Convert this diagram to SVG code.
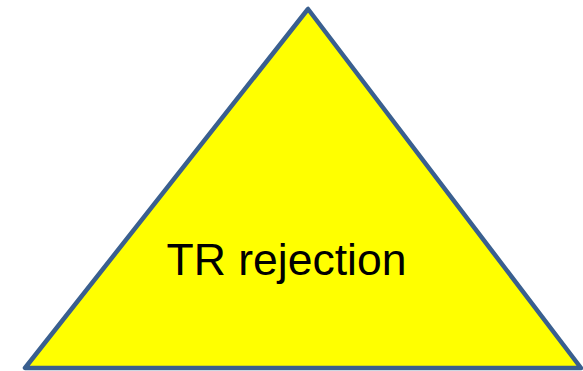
<svg xmlns="http://www.w3.org/2000/svg" width="583" height="371" viewBox="0 0 583 371">
<style>
.tri{fill:#FFFF00;stroke:#3A5F8F;stroke-width:4.5;stroke-linejoin:round}
.lbl{font-family:"Liberation Sans",Arial,sans-serif;font-size:44.5px;fill:#000}
</style>
<rect width="583" height="371" fill="#fff"/>
<g id="triangle">
<polygon class="tri" points="308,9 25,368 581,368"/>
<text class="lbl" x="286.5" y="275" text-anchor="middle">TR rejection</text>
</g>
</svg>
